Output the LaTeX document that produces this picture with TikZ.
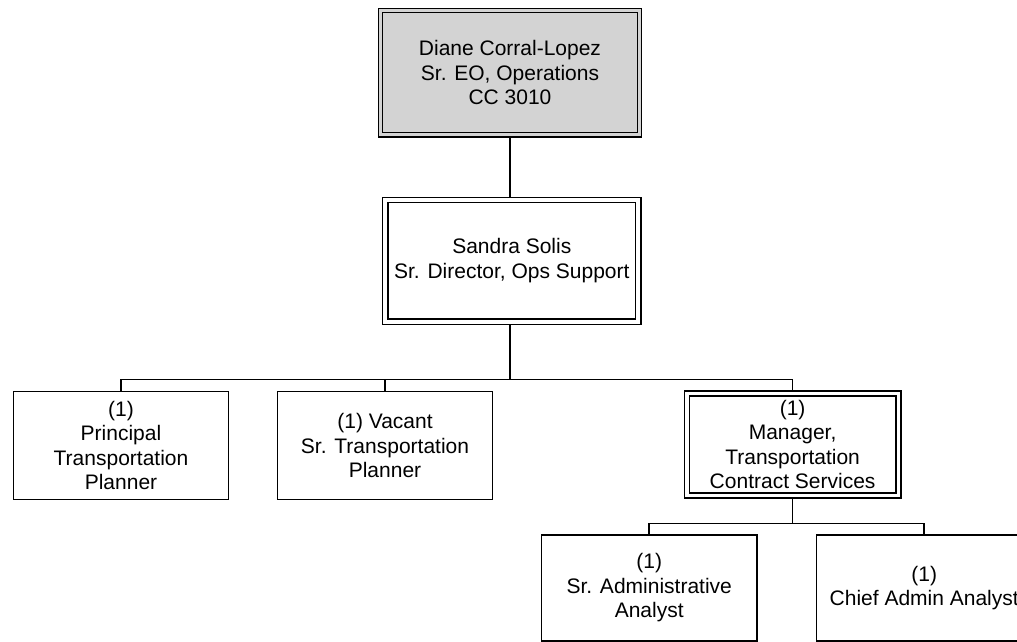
\documentclass[tikz,border=0pt]{standalone}
\usepackage{fontspec}
\setmainfont{Liberation Sans}
\definecolor{boxgray}{RGB}{211,211,211}
\begin{document}
\begin{tikzpicture}[x=1pt,y=-1pt,
  every node/.style={font=\fontsize{21}{24.5}\selectfont, align=center, inner sep=0pt},
  plainbox/.style={draw, line width=1.5pt, minimum width=215.4pt, minimum height=#1, outer sep=0.75pt},
  dblbox/.style={draw, line width=1.4pt, double distance=#1, outer sep=1.4pt+0.5*#1},
  conn/.style={line width=1.6pt}
]
\useasboundingbox (0,0) rectangle (1017,642);
\clip (0,0) rectangle (1017,642);

\node[dblbox=3pt, double=boxgray, fill=boxgray, minimum width=259pt, minimum height=124.4pt] (t) at (510,72.7)
  {Diane Corral-Lopez\\Sr. EO, Operations\\CC 3010};
\node[dblbox=4pt, double=white, minimum width=252.7pt, minimum height=121.7pt] (s) at (511.8,260.8)
  {Sandra Solis\\Sr. Director, Ops Support};

\node[plainbox=107.6pt] (p1) at (121,445.5) {(1)\\Principal\\Transportation\\Planner};
\node[plainbox=107.6pt] (p2) at (385,445.5) {(1) Vacant\\Sr. Transportation\\Planner};
\node[dblbox=3.6pt, double=white, minimum width=211.7pt, minimum height=102pt] (m) at (792.6,444.5)
  {(1)\\Manager,\\Transportation\\Contract Services};

\node[plainbox=106pt] (a1) at (649.2,588) {(1)\\Sr. Administrative\\Analyst};
\node[plainbox=106pt] (a2) at (924.2,588) {(1)\\Chief Admin Analyst};

\coordinate (bus1) at (510,379.3);
\coordinate (bus2) at (792.6,523.3);

\draw[conn] (t.south) -- (t.south |- s.north);
\draw[conn] (bus1 |- s.south) -- (bus1);
\draw[conn] (p1.north) |- (bus1) -| (m.north);
\draw[conn] (p2.north) -- (p2.north |- bus1);
\draw[conn] (m.south) -- (bus2);
\draw[conn] (a1.north) |- (bus2) -| (a2.north);
\end{tikzpicture}
\end{document}
